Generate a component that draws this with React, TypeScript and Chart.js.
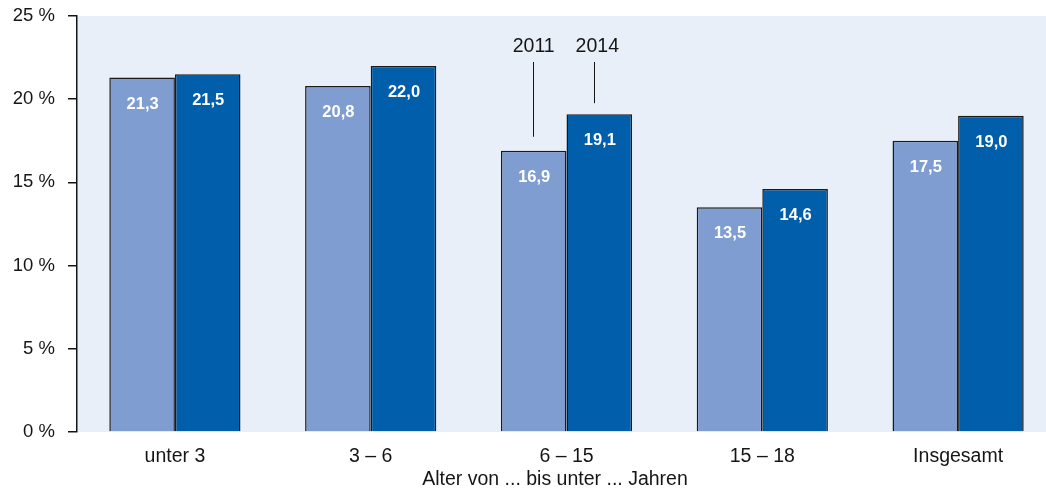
import React, { useEffect, useRef } from "react";
import { Chart, registerables } from "chart.js";

Chart.register(...registerables);

const categories = ["unter 3", "3 – 6", "6 – 15", "15 – 18", "Insgesamt"];
const values2011 = [21.3, 20.8, 16.9, 13.5, 17.5];
const values2014 = [21.5, 22.0, 19.1, 14.6, 19.0];
const seriesLabels = ["2011", "2014"];
const yTicks = [0, 5, 10, 15, 20, 25];
const xTitle = "Alter von ... bis unter ... Jahren";

const FONT = "'Liberation Sans', Arial, sans-serif";
const TEXT = "#151515";
const FS_Y = 18.5;
const FS_X = 19.5;

const bgPlugin = {
  id: "plotBg",
  beforeDraw(chart: any) {
    const { ctx, chartArea } = chart;
    ctx.save();
    ctx.fillStyle = "#e8eff9";
    ctx.fillRect(chartArea.left, chartArea.top, chartArea.right - chartArea.left, chartArea.bottom - chartArea.top);
    ctx.restore();
  },
};

const labelPlugin = {
  id: "barLabels",
  afterDraw(chart: any) {
    const { ctx, chartArea } = chart;
    ctx.save();
    ctx.font = `bold 16.5px ${FONT}`;
    ctx.fillStyle = "#ffffff";
    ctx.textAlign = "center";
    ctx.textBaseline = "middle";
    chart.data.datasets.forEach((ds: any, di: number) => {
      const meta = chart.getDatasetMeta(di);
      meta.data.forEach((bar: any, i: number) => {
        const v = ds.data[i];
        ctx.fillText(v.toFixed(1).replace(".", ","), bar.x + 0.5, bar.y + 26.5);
      });
    });
    // series annotation above the 6 – 15 group
    const idx = 2;
    ctx.font = `${FS_X}px ${FONT}`;
    ctx.fillStyle = TEXT;
    ctx.strokeStyle = TEXT;
    ctx.lineWidth = 1;
    const shifts = [0, -4];
    const gaps = [14, 11];
    chart.data.datasets.forEach((ds: any, di: number) => {
      const bar = chart.getDatasetMeta(di).data[idx];
      const x = Math.round(bar.x + shifts[di]) - 0.5;
      ctx.fillText(seriesLabels[di], bar.x + shifts[di] / 2, 47);
      ctx.beginPath();
      ctx.moveTo(x, 62);
      ctx.lineTo(x, bar.y - gaps[di]);
      ctx.stroke();
    });
    // axis title
    ctx.fillText(xTitle, chartArea.left + 478, 480);
    ctx.restore();
  },
};

export default function App() {
  const ref = useRef<HTMLCanvasElement | null>(null);
  useEffect(() => {
    if (!ref.current) return;
    const chart = new Chart(ref.current, {
      type: "bar",
      data: {
        labels: categories,
        datasets: [
          {
            label: seriesLabels[0],
            data: values2011,
            backgroundColor: "#7f9dd1",
            borderColor: "#1a1a1a",
            borderWidth: 1.5,
            borderSkipped: "bottom",
            categoryPercentage: 0.67,
            barPercentage: 1,
          },
          {
            label: seriesLabels[1],
            data: values2014,
            backgroundColor: "#005eaa",
            borderColor: "#1a1a1a",
            borderWidth: 1.5,
            borderSkipped: "bottom",
            categoryPercentage: 0.67,
            barPercentage: 1,
          },
        ],
      },
      options: {
        animation: false,
        responsive: false,
        layout: { padding: { top: 16, right: 0, left: 0, bottom: 0 } },
        plugins: { legend: { display: false }, tooltip: { enabled: false } },
        scales: {
          x: {
            grid: { display: false, drawTicks: false },
            border: { display: false },
            ticks: { color: TEXT, font: { family: FONT, size: FS_X }, padding: 13, maxRotation: 0 },
            afterFit(scale: any) {
              scale.height = 62;
            },
          },
          y: {
            min: 0,
            max: 25,
            afterBuildTicks(scale: any) {
              scale.ticks = yTicks.map((v) => ({ value: v }));
            },
            grid: { drawOnChartArea: false, drawTicks: true, tickLength: 9, color: TEXT, lineWidth: 1.5 },
            border: { display: true, color: TEXT, width: 1.5 },
            ticks: {
              color: TEXT,
              font: { family: FONT, size: FS_Y },
              padding: 13,
              callback: (v: any) => `${v} %`,
            },
            afterFit(scale: any) {
              scale.width = 77;
              scale.paddingTop = 0;
              scale.paddingBottom = 0;
            },
          },
        },
      },
      plugins: [bgPlugin, labelPlugin],
    });
    return () => chart.destroy();
  }, []);
  return (
    <div style={{ position: "absolute", left: 0, top: 0, width: 1046, height: 494, overflow: "hidden", background: "#fff" }}>
      <canvas ref={ref} width={1056} height={494} style={{ display: "block" }} />
    </div>
  );
}
